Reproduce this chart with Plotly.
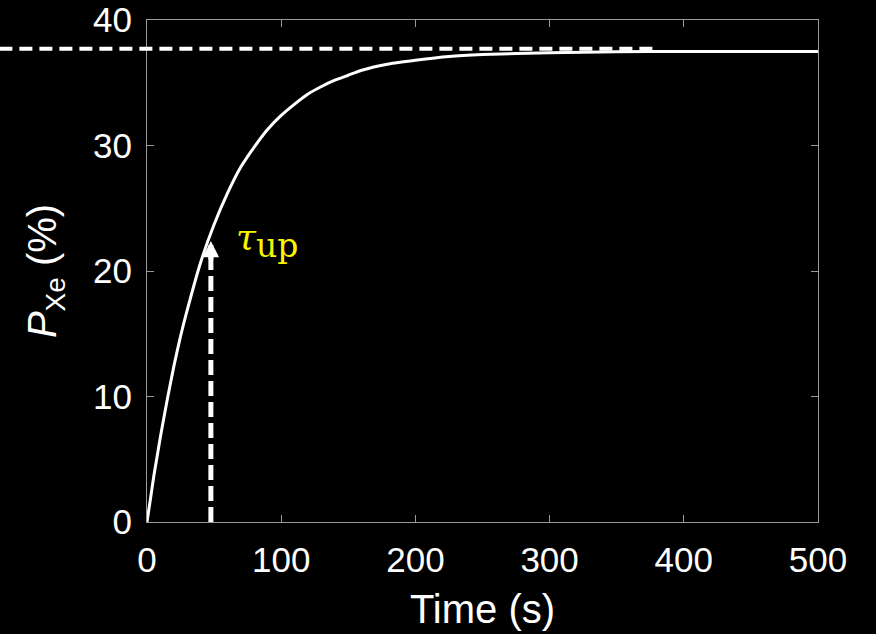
import plotly.graph_objects as go

# --- data ---
time_s = [0, 2.5, 5, 7.5, 10, 15, 20, 25, 30, 40, 50, 60, 70, 80, 90, 100,
          110, 120, 130, 140, 150, 160, 180, 200, 225, 250, 300, 350, 400,
          450, 500]
p_xe = [0, 1.8, 3.6, 5.2, 6.8, 9.7, 12.4, 14.8, 16.9, 20.7, 23.7, 26.2, 28.3,
        29.9, 31.3, 32.4, 33.3, 34.1, 34.7, 35.2, 35.6, 36.0, 36.5, 36.8,
        37.1, 37.25, 37.4, 37.47, 37.49, 37.5, 37.5]

steady_level = 37.7          # dashed asymptote level (%)
steady_x = [-110, 377]       # extent of the dashed asymptote (s)
tau_up = 47.6                # time constant marker (s)
tau_arrow_top = 22.4         # arrow tip (%)

x_range = [0, 500]
y_range = [0, 40]
x_ticks = [0, 100, 200, 300, 400, 500]
y_ticks = [0, 10, 20, 30, 40]

AX = "#9a9a9a"
FONT = "Liberation Sans, Arial, sans-serif"

fig = go.Figure()

fig.add_trace(go.Scatter(
    x=time_s, y=p_xe, mode="lines",
    line=dict(color="white", width=3, shape="spline", smoothing=0.6),
    showlegend=False, hoverinfo="skip"))

fig.add_trace(go.Scatter(
    x=[tau_up, tau_up], y=[0, tau_arrow_top - 1.2], mode="lines",
    line=dict(color="white", width=5, dash="15px,6px"),
    showlegend=False, hoverinfo="skip"))

def px(v):
    return (v - x_range[0]) / (x_range[1] - x_range[0])

def py(v):
    return (v - y_range[0]) / (y_range[1] - y_range[0])

fig.add_shape(type="line", xref="paper", yref="paper",
              x0=px(steady_x[0]), x1=px(steady_x[1]),
              y0=py(steady_level), y1=py(steady_level),
              line=dict(color="white", width=4, dash="13px,7px"))

fig.add_annotation(x=tau_up, y=tau_arrow_top, xref="x", yref="y",
                   axref="x", ayref="y", ax=tau_up, ay=tau_arrow_top - 1.6,
                   showarrow=True, arrowhead=2, arrowwidth=5, arrowsize=0.65,
                   arrowcolor="white", standoff=0, text="")

fig.add_annotation(x=65, y=22.4, xref="x", yref="y", xanchor="left",
                   yanchor="middle", showarrow=False,
                   text="<i>τ</i><sub><span style='font-size:33px'>up</span></sub>",
                   font=dict(family="DejaVu Serif, serif", size=36, color="#f7f700"))

axis_common = dict(showline=True, linecolor=AX, linewidth=1.2, mirror="ticks",
                   ticks="inside", ticklen=7, tickcolor=AX, tickwidth=1,
                   showgrid=False, zeroline=False, automargin=False,
                   ticklabelstandoff=7,
                   tickfont=dict(family=FONT, size=35, color="white"))

fig.update_xaxes(range=x_range, tickvals=x_ticks, **axis_common,
                 title=dict(text="Time (s)", standoff=16,
                            font=dict(family=FONT, size=40, color="white")))
fig.update_yaxes(range=y_range, tickvals=y_ticks, **axis_common,
                 title=dict(text="<i>P</i><sub>Xe</sub> (%)", standoff=23,
                            font=dict(family=FONT, size=40, color="white")))

fig.update_layout(width=876, height=634,
                  margin=dict(l=147, r=58, t=20, b=112),
                  paper_bgcolor="black", plot_bgcolor="black")

fig.write_html("out.html",
               config={"displayModeBar": False},
               post_script="document.body.style.margin='0';"
                           "document.body.style.background='black';")
